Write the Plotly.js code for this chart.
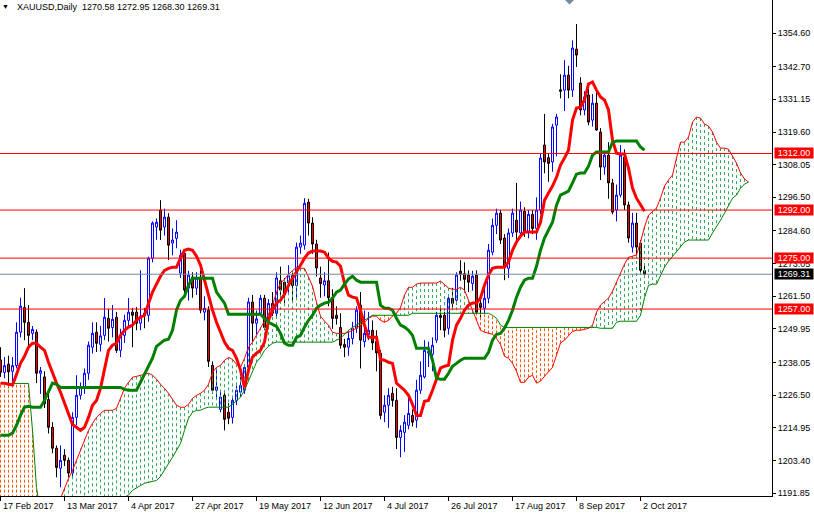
<!DOCTYPE html>
<html><head><meta charset="utf-8">
<script src="https://cdn.plot.ly/plotly-3.0.1.min.js"></script>
<style>html,body{margin:0;padding:0;background:#fff;}#chart{width:814px;height:514px;}</style>
</head><body><div id="chart"></div>
<script>
// ---- data (bar index 0 = 17 Feb 2017) ----
const symbolTitle = 'XAUUSD,Daily';
const dateLabels = ['17 Feb 2017','13 Mar 2017','4 Apr 2017','27 Apr 2017','19 May 2017','12 Jun 2017','4 Jul 2017','26 Jul 2017','17 Aug 2017','8 Sep 2017','2 Oct 2017'];
const labelBars = [0,16,32,48,64,80,96,112,128,144,160];
const yTicks = [1191.85,1203.40,1214.95,1226.50,1238.05,1249.95,1261.50,1273.05,1284.60,1296.50,1308.05,1319.60,1331.15,1342.70,1354.60];
const redLevels = [1312.00,1292.00,1275.00,1257.00];

const open = [
1239.0,1234.6,1237.5,1235.0,1237.0,1248.8,1257.6,1252.3,1248.4,1248.8,
1234.3,1233.0,1225.0,1215.2,1207.8,1200.7,1205.3,1203.5,1199.0,1218.7,
1226.5,1229.5,1234.3,1243.5,1248.8,1244.5,1247.7,1253.7,1250.5,1254.1,
1242.4,1247.7,1253.0,1255.9,1255.9,1252.0,1255.5,1254.8,1275.0,1286.0,
1292.0,1286.0,1289.5,1280.3,1282.0,1269.7,1276.7,1264.4,1268.3,1264.4,
1268.3,1255.9,1256.6,1237.1,1228.3,1221.5,1226.5,1220.5,1218.7,1224.7,
1227.6,1228.3,1236.4,1259.5,1252.0,1255.5,1260.8,1252.0,1259.0,1255.5,
1267.0,1266.5,1266.3,1268.8,1265.3,1278.9,1279.6,1294.8,1287.4,1280.0,
1268.0,1265.5,1267.0,1260.8,1254.8,1250.5,1244.5,1243.5,1246.6,1250.2,
1258.4,1245.5,1248.0,1249.5,1245.5,1241.4,1220.5,1223.0,1227.2,1224.7,
1211.6,1213.4,1215.9,1219.4,1217.7,1228.3,1233.0,1241.5,1241.0,1246.0,
1254.8,1254.8,1250.2,1260.8,1260.1,1270.4,1269.5,1269.0,1266.0,1269.0,
1259.0,1257.3,1260.8,1277.1,1286.6,1290.9,1282.1,1271.4,1283.9,1288.4,
1283.9,1291.5,1284.2,1290.5,1285.5,1292.0,1315.0,1310.5,1309.0,1322.0,
1334.5,1334.4,1339.7,1334.4,1348.9,1336.9,1327.4,1332.7,1323.8,1329.8,
1319.6,1307.2,1311.4,1301.6,1292.0,1297.3,1310.7,1293.8,1278.9,1287.4,
1280.3,1270.58];
const high = [
1243.5,1240.0,1240.5,1240.0,1252.3,1261.0,1264.4,1258.4,1251.0,1249.8,
1236.5,1235.0,1227.0,1217.0,1208.8,1208.8,1207.5,1204.5,1220.5,1233.6,
1231.0,1236.0,1245.5,1252.3,1252.3,1251.0,1260.9,1257.0,1258.4,1256.0,
1250.0,1255.0,1260.9,1257.4,1257.7,1270.7,1257.4,1275.5,1288.0,1289.0,
1295.5,1292.5,1290.9,1285.5,1288.4,1278.0,1278.0,1270.5,1270.0,1270.0,
1270.7,1261.5,1258.0,1238.5,1236.0,1228.0,1228.3,1223.7,1226.0,1230.0,
1233.0,1237.5,1261.0,1262.0,1256.5,1262.0,1262.0,1260.5,1263.0,1270.0,
1272.0,1268.0,1272.5,1270.5,1280.5,1283.0,1296.2,1296.0,1289.5,1281.5,
1272.0,1270.0,1277.0,1264.0,1258.0,1255.5,1246.5,1249.0,1252.5,1258.0,
1263.0,1256.5,1256.0,1253.0,1249.5,1242.5,1226.5,1229.0,1229.5,1229.0,
1215.9,1219.5,1226.5,1221.5,1232.0,1238.5,1246.0,1245.5,1247.0,1256.0,
1257.3,1256.0,1262.0,1264.5,1270.0,1274.3,1273.5,1270.7,1270.5,1270.7,
1261.0,1265.0,1280.0,1289.0,1292.5,1292.0,1283.5,1285.5,1292.5,1301.6,
1295.0,1293.0,1292.0,1292.0,1296.5,1312.0,1326.0,1312.0,1322.5,1326.0,
1340.0,1345.0,1343.0,1352.0,1357.8,1339.0,1334.0,1335.0,1333.0,1335.0,
1321.0,1313.0,1316.0,1303.0,1301.0,1315.0,1313.5,1295.0,1291.0,1291.0,
1281.4,1272.95];
const low = [
1233.0,1232.5,1229.0,1231.0,1236.0,1247.0,1246.0,1243.5,1246.0,1230.8,
1227.0,1222.0,1213.0,1206.0,1197.5,1194.0,1201.5,1197.5,1197.5,1216.0,
1225.0,1227.0,1232.0,1241.3,1241.8,1242.0,1246.0,1245.5,1247.0,1241.5,
1240.0,1245.0,1250.5,1243.5,1249.5,1249.5,1250.2,1252.5,1273.5,1281.5,
1281.4,1283.0,1274.3,1276.0,1278.5,1268.0,1262.0,1260.0,1261.0,1262.0,
1255.5,1253.0,1236.5,1227.0,1225.5,1220.5,1214.1,1216.3,1216.5,1223.0,
1226.0,1227.0,1235.5,1245.5,1248.0,1254.5,1249.5,1250.0,1254.5,1254.0,
1262.0,1259.0,1262.0,1259.5,1261.0,1276.5,1278.0,1283.0,1276.5,1268.5,
1261.0,1261.5,1258.0,1250.0,1251.5,1243.0,1240.0,1240.5,1244.5,1248.5,
1236.0,1243.5,1246.0,1242.5,1235.0,1218.0,1217.0,1215.0,1222.5,1207.5,
1204.6,1206.5,1214.5,1215.5,1215.0,1227.0,1232.5,1236.5,1235.0,1245.0,
1249.5,1247.0,1248.0,1256.6,1258.5,1267.0,1263.0,1263.0,1263.5,1255.0,
1254.0,1255.5,1259.0,1276.0,1283.5,1280.0,1267.2,1268.0,1282.5,1281.0,
1282.0,1282.5,1282.0,1283.5,1281.5,1290.5,1305.0,1302.0,1305.5,1311.0,
1331.5,1327.0,1331.5,1332.0,1342.6,1325.5,1325.5,1322.0,1321.5,1320.0,
1302.6,1304.5,1296.0,1290.5,1288.0,1296.5,1292.0,1280.5,1277.0,1275.5,
1269.7,1268.30];
const close = [
1234.6,1237.0,1234.8,1237.0,1248.8,1258.0,1252.3,1247.7,1249.8,1234.3,
1235.2,1223.5,1215.2,1207.8,1201.0,1203.5,1203.5,1199.0,1218.7,1226.5,
1229.5,1234.3,1244.2,1248.4,1244.9,1247.5,1254.1,1250.2,1253.4,1242.4,
1247.7,1253.0,1255.9,1254.8,1252.0,1254.5,1254.8,1275.0,1287.4,1287.7,
1284.9,1289.5,1279.6,1281.4,1284.2,1276.0,1263.7,1269.0,1264.4,1268.0,
1256.6,1257.3,1238.5,1228.3,1229.5,1225.9,1218.0,1218.4,1224.7,1228.3,
1230.0,1236.4,1259.5,1252.0,1253.5,1260.8,1250.5,1259.0,1255.5,1268.0,
1263.7,1262.5,1268.8,1265.3,1278.9,1280.3,1294.4,1287.4,1280.0,1271.5,
1266.0,1267.0,1261.0,1253.7,1253.7,1244.2,1243.5,1246.6,1250.2,1256.6,
1246.0,1248.4,1249.5,1245.0,1241.5,1219.4,1223.0,1226.5,1224.7,1211.6,
1214.1,1217.0,1220.1,1217.0,1228.3,1233.6,1242.4,1242.0,1244.2,1254.8,
1254.0,1249.5,1260.8,1259.0,1269.0,1269.3,1267.5,1266.5,1268.6,1255.9,
1257.6,1260.8,1277.8,1286.6,1290.9,1281.4,1271.8,1283.9,1290.9,1284.2,
1292.0,1284.2,1290.5,1285.5,1292.0,1310.4,1309.0,1308.5,1321.4,1324.9,
1334.0,1339.7,1334.4,1349.3,1346.8,1327.4,1332.0,1323.1,1329.8,1320.3,
1307.2,1311.4,1301.6,1291.3,1297.3,1311.4,1293.8,1282.1,1287.4,1278.9,
1270.7,1269.31];

// Ichimoku lines
const tenkan = [
1230.8,1230.8,1230.4,1230.1,1233.9,1237.8,1240.3,1243.5,1244.9,1244.9,
1243.5,1242.4,1238.2,1234.3,1230.8,1227.6,1224.0,1220.5,1216.2,1215.2,
1214.1,1215.2,1218.7,1223.0,1224.7,1229.0,1235.4,1242.4,1244.2,1244.9,
1247.7,1249.5,1250.6,1251.3,1253.0,1254.1,1254.8,1259.1,1263.0,1265.8,
1268.6,1270.7,1271.4,1271.8,1271.8,1275.0,1277.8,1278.2,1277.8,1275.7,
1272.5,1267.2,1261.5,1256.6,1252.3,1248.8,1245.3,1243.1,1242.4,1239.6,
1235.4,1229.3,1235.4,1240.0,1241.4,1242.4,1245.3,1253.0,1256.6,1259.1,
1260.1,1262.2,1265.4,1267.9,1270.0,1272.5,1275.0,1276.8,1277.5,1277.5,
1277.5,1277.1,1275.0,1273.9,1273.6,1272.1,1266.1,1261.9,1261.2,1260.9,
1256.6,1251.3,1247.0,1247.0,1247.0,1239.2,1238.9,1238.2,1237.8,1230.8,
1229.7,1228.3,1226.5,1223.3,1219.4,1219.4,1224.4,1224.7,1228.3,1232.2,
1236.1,1236.8,1237.1,1246.0,1251.3,1253.7,1256.6,1258.4,1259.1,1259.1,
1260.9,1265.4,1269.0,1271.4,1271.8,1271.8,1271.8,1273.6,1277.8,1280.7,
1282.8,1284.2,1284.2,1284.2,1284.2,1287.7,1295.5,1298.0,1300.5,1303.6,
1307.9,1310.4,1313.2,1323.8,1328.1,1328.4,1330.9,1336.6,1337.3,1334.4,
1332.0,1330.9,1327.4,1316.7,1312.1,1311.8,1311.8,1306.8,1299.8,1296.2,
1293.7,1291.6];
const kijun = [
1212.4,1212.4,1212.4,1213.1,1215.9,1219.4,1222.3,1222.6,1222.3,1222.3,
1222.3,1224.7,1227.9,1230.8,1230.4,1229.3,1229.3,1229.3,1229.3,1229.3,
1229.3,1229.3,1229.3,1229.3,1229.3,1229.3,1229.3,1229.3,1229.3,1229.3,
1229.3,1228.6,1228.3,1228.3,1228.3,1231.1,1233.9,1236.8,1239.6,1243.8,
1244.9,1246.0,1246.3,1249.5,1256.6,1260.1,1261.5,1265.4,1267.9,1267.9,
1267.9,1267.9,1267.9,1267.9,1263.0,1260.9,1259.1,1255.2,1255.2,1255.2,
1255.2,1255.2,1255.2,1255.2,1255.2,1255.2,1253.7,1252.3,1251.6,1250.9,
1248.4,1244.9,1244.2,1244.2,1247.0,1247.7,1250.6,1253.0,1254.8,1257.3,
1258.4,1259.1,1259.4,1260.9,1263.0,1263.7,1265.8,1267.6,1268.6,1267.2,
1266.5,1266.5,1266.5,1266.5,1266.5,1258.4,1257.3,1257.3,1256.6,1253.7,
1251.3,1250.6,1249.5,1247.7,1243.1,1243.1,1243.1,1243.1,1238.9,1232.5,
1232.2,1232.2,1234.3,1236.8,1237.8,1238.9,1239.6,1239.6,1239.6,1239.6,
1239.6,1239.6,1241.7,1246.0,1248.1,1248.4,1250.2,1253.0,1256.6,1261.2,
1264.7,1267.2,1267.9,1267.9,1272.1,1277.8,1282.1,1284.9,1287.7,1293.7,
1297.3,1298.0,1298.7,1301.6,1304.7,1305.1,1305.1,1307.5,1311.4,1312.5,
1312.5,1312.5,1312.5,1316.0,1316.4,1316.4,1316.4,1316.4,1316.4,1316.4,
1314.3,1313.2];
const spanA = [
1185,1185,1185,1185,1185,1185,1185,1185,1185,1185,
1185,1185,1185,1185,1185,1190.0,1193.6,1197.1,1200.0,1203.5,
1207.7,1211.2,1214.1,1216.6,1218.7,1220.1,1221.2,1221.2,1221.2,1221.9,
1225.4,1229.0,1231.1,1232.9,1233.2,1233.6,1233.9,1234.3,1233.6,1232.2,
1230.4,1229.0,1227.2,1225.1,1223.0,1222.3,1222.3,1223.3,1225.4,1226.5,
1227.2,1228.3,1230.4,1234.6,1236.4,1237.1,1238.9,1239.9,1239.2,1237.5,
1236.4,1239.6,1243.5,1245.3,1247.7,1250.5,1253.0,1255.2,1258.4,1263.0,
1266.2,1267.5,1269.3,1270.7,1271.8,1271.4,1271.4,1268.3,1265.1,1259.4,
1254.5,1252.7,1251.3,1248.8,1248.4,1248.4,1248.4,1248.8,1249.5,1250.2,
1251.3,1252.3,1253.7,1254.5,1254.5,1253.0,1252.3,1253.0,1254.5,1255.5,
1257.6,1261.9,1264.7,1264.7,1265.8,1266.2,1266.2,1266.2,1266.2,1266.2,
1266.9,1265.8,1264.4,1264.0,1264.0,1264.7,1263.7,1260.1,1256.6,1253.0,
1249.5,1248.8,1248.4,1248.1,1246.6,1244.5,1240.3,1239.6,1237.8,1235.0,
1231.1,1231.1,1232.9,1233.6,1230.8,1231.5,1233.2,1235.0,1236.4,1240.7,
1245.0,1246.0,1247.7,1249.1,1249.5,1249.5,1249.8,1250.2,1251.3,1255.9,
1258.4,1259.8,1260.9,1263.3,1266.5,1269.7,1272.9,1275.3,1275.7,1276.1,
1280.7,1286.0,1290.2,1291.6,1292.7,1296.2,1300.5,1302.6,1304.4,1310.4,
1316.0,1316.0,1317.8,1323.1,1324.9,1324.5,1322.4,1321.7,1319.6,1316.0,
1313.9,1313.9,1313.5,1311.1,1308.6,1305.1,1303.0,1301.9];
const spanB = [
1230.7,1230.7,1230.7,1230.7,1230.7,1230.7,1230.7,1230.7,1214.1,1193.9,
1185,1185,1185,1185,1185,1185,1185,1185,1185,1185,
1185,1185,1185,1185,1185,1185,1185,1185,1185,1185,
1185,1190.5,1191.2,1192.9,1193.9,1194.6,1195.4,1195.7,1196.1,1196.4,
1197.8,1200.0,1202.1,1204.6,1207.0,1209.5,1214.1,1218.4,1220.5,1221.2,
1221.2,1221.9,1222.3,1222.3,1222.3,1222.3,1222.3,1222.3,1223.3,1224.7,
1225.8,1228.3,1231.8,1235.4,1238.2,1239.9,1242.4,1243.8,1244.9,1245.3,
1245.3,1245.3,1245.3,1245.3,1245.3,1245.3,1245.3,1245.3,1245.3,1245.3,
1245.3,1245.3,1245.3,1245.3,1246.0,1246.7,1248.1,1249.5,1250.5,1251.3,
1252.3,1253.0,1253.7,1254.8,1254.8,1254.8,1254.8,1254.8,1254.8,1254.8,
1254.8,1254.8,1254.8,1255.5,1255.5,1255.5,1255.5,1255.5,1255.5,1255.5,
1255.5,1255.5,1255.5,1255.5,1255.5,1255.5,1255.5,1255.5,1255.5,1255.5,
1255.5,1255.5,1255.5,1254.8,1253.7,1251.3,1250.5,1250.5,1250.5,1250.5,
1250.5,1250.5,1250.5,1250.5,1250.5,1250.5,1250.5,1250.5,1250.5,1250.5,
1250.5,1250.5,1250.5,1250.5,1250.5,1250.5,1250.5,1250.5,1250.5,1250.5,
1250.2,1250.2,1250.2,1250.2,1252.3,1252.7,1252.7,1252.7,1252.7,1252.7,
1254.8,1261.0,1265.4,1265.8,1265.8,1268.6,1271.8,1273.9,1275.7,1277.1,
1278.9,1280.7,1281.4,1281.4,1281.4,1281.4,1281.4,1281.4,1283.9,1286.0,
1288.4,1290.9,1293.7,1296.2,1297.3,1299.7,1301.2,1301.9];

// ---- build traces ----
const FONT = 'Liberation Sans, Arial, sans-serif';
const bars = open.map((_, i) => i);
const cloudBars = spanA.map((_, i) => i);
const last = open.length - 1;
const lastClose = close[last];

const gx = [], gy = [], ox = [], oy = [];
cloudBars.forEach(i => {
  const a = spanA[i], b = spanB[i];
  if (a >= b) { gx.push(i, i, null); gy.push(a, b, null); }
  else { ox.push(i, i, null); oy.push(a, b, null); }
});

const traces = [
  {type:'candlestick', x:bars, open:open, high:high, low:low, close:close,
   increasing:{line:{color:'#0000FF', width:1}, fillcolor:'#FFFFFF'},
   decreasing:{line:{color:'#000000', width:1}, fillcolor:'#FF0000'},
   whiskerwidth:0, hoverinfo:'skip', showlegend:false},
  {type:'scatter', mode:'lines', x:gx, y:gy, connectgaps:false,
   line:{color:'#2EAA5C', width:1, dash:'3px,3px'}, hoverinfo:'skip', showlegend:false},
  {type:'scatter', mode:'lines', x:ox, y:oy, connectgaps:false,
   line:{color:'#FF5A00', width:1, dash:'3px,2px'}, hoverinfo:'skip', showlegend:false},
  {type:'scatter', mode:'lines', x:cloudBars, y:spanA, line:{color:'#FF0000', width:1}, hoverinfo:'skip', showlegend:false},
  {type:'scatter', mode:'lines', x:cloudBars, y:spanB, line:{color:'#008000', width:1}, hoverinfo:'skip', showlegend:false},
  {type:'scatter', mode:'lines', x:bars, y:tenkan, line:{color:'#FF0000', width:3}, hoverinfo:'skip', showlegend:false},
  {type:'scatter', mode:'lines', x:bars, y:kijun, line:{color:'#008000', width:3}, hoverinfo:'skip', showlegend:false}
];

const shapes = redLevels.map(v => ({type:'line', xref:'paper', x0:0, x1:1, yref:'y', y0:v, y1:v,
  line:{color:'#FF0000', width:1}, layer:'above'}));
shapes.push({type:'line', xref:'paper', x0:0, x1:1, yref:'y', y0:lastClose, y1:lastClose,
  line:{color:'#778899', width:1}, layer:'above'});
shapes.push({type:'path', xref:'paper', yref:'paper', path:'M 0.7319 1 L 0.7435 1 L 0.7377 0.991 Z',
  fillcolor:'#778899', line:{width:0}, layer:'above'});

const annotations = [];
dateLabels.forEach((t, k) => annotations.push({xref:'x', x:labelBars[k], xanchor:'left', yref:'paper', y:0,
  yanchor:'top', yshift:-3, text:t, showarrow:false, font:{family:FONT, size:9, color:'#000'}}));
redLevels.forEach(v => annotations.push({xref:'paper', x:1, xanchor:'left', xshift:2, yref:'y', y:v, yanchor:'middle',
  text:v.toFixed(2), showarrow:false, bgcolor:'#FF0000', borderpad:0, width:38, height:10,
  font:{family:FONT, size:9, color:'#FFFFFF'}}));
annotations.push({xref:'paper', x:1, xanchor:'left', xshift:2, yref:'y', y:lastClose, yanchor:'middle',
  text:lastClose.toFixed(2), showarrow:false, bgcolor:'#000000', borderpad:0, width:38, height:10,
  font:{family:FONT, size:9, color:'#FFFFFF'}});
const hdr = symbolTitle + '\u00a0\u00a0' + [open[last], high[last], low[last], close[last]].map(v => v.toFixed(2)).join(' ');
annotations.push({xref:'paper', x:15/772, xanchor:'left', yref:'paper', y:1, yanchor:'top', text:hdr,
  showarrow:false, font:{family:FONT, size:9, color:'#000'}});
annotations.push({xref:'paper', x:5.5/772, xanchor:'center', yref:'paper', y:1, yanchor:'top', yshift:-1, text:'\u25BC',
  showarrow:false, font:{family:FONT, size:7, color:'#000'}});

const layout = {
  width:814, height:514, margin:{l:0, r:42, t:0, b:18, pad:0},
  paper_bgcolor:'#FFFFFF', plot_bgcolor:'#FFFFFF', showlegend:false,
  xaxis:{range:[-0.125, 192.875], tickvals:labelBars, ticktext:labelBars.map(() => ''), ticks:'outside', ticklen:4,
    tickcolor:'#000', showgrid:false, zeroline:false, showline:true, linecolor:'#000', linewidth:1,
    rangeslider:{visible:false}, fixedrange:true},
  yaxis:{side:'right', range:[1190.90, 1366.27], tickvals:yTicks, ticktext:yTicks.map(v => v.toFixed(2)),
    ticks:'outside', ticklen:3, tickcolor:'#000', tickfont:{family:FONT, size:9, color:'#000'},
    showgrid:false, zeroline:false, showline:true, linecolor:'#000', linewidth:1, fixedrange:true},
  shapes:shapes, annotations:annotations
};

Plotly.newPlot('chart', traces, layout, {staticPlot:true, displayModeBar:false});
</script>
</body></html>
